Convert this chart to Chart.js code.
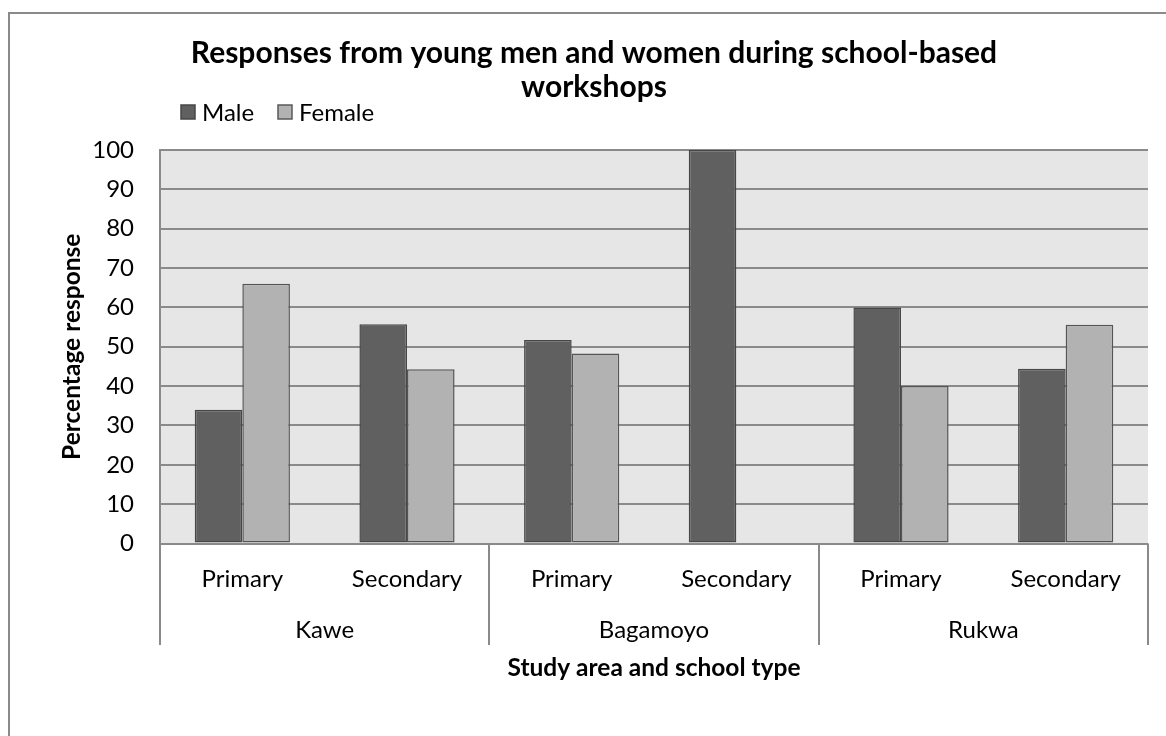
<!DOCTYPE html>
<html>
<head>
<meta charset="utf-8">
<script src="https://cdn.jsdelivr.net/npm/chart.js@4.4.1/dist/chart.umd.min.js"></script>
<style>
  body { margin: 0; background: #fff; }
  #wrap { width: 1166px; height: 736px; }
</style>
</head>
<body>
<div id="wrap"><canvas id="responsesChart" width="1166" height="736"></canvas></div>
<script>
// school types along the axis, grouped by study area
const schoolTypes = ['Primary', 'Secondary', 'Primary', 'Secondary', 'Primary', 'Secondary'];
const studyAreas = ['Kawe', 'Bagamoyo', 'Rukwa'];
const maleValues = [34, 55.7, 51.7, 100, 60, 44.4];
const femaleValues = [66, 44.3, 48.3, 0, 40, 55.6];
const yTicks = [0, 10, 20, 30, 40, 50, 60, 70, 80, 90, 100];

const titleLines = ['Responses from young men and women during school-based', 'workshops'];
const FONT = 'Lato, "Open Sans", sans-serif';
const GRID = '#8a8a8a';

// backdrop, frame, title, legend, grouped axis labels
const decorations = {
    id: 'decorations',
    beforeDraw(chart) {
        const { ctx, chartArea: a } = chart;
        ctx.save();
        ctx.fillStyle = '#fff';
        ctx.fillRect(0, 0, chart.width, chart.height);
        ctx.fillStyle = '#e6e6e6';
        ctx.fillRect(a.left, a.top, a.right - a.left, a.bottom - a.top);
        ctx.restore();
    },
    afterDraw(chart) {
        const { ctx, chartArea: a } = chart;
        const x = chart.scales.x;
        ctx.save();

        // outer frame
        ctx.strokeStyle = GRID;
        ctx.lineWidth = 2;
        ctx.beginPath();
        ctx.moveTo(9, chart.height);
        ctx.lineTo(9, 13);
        ctx.lineTo(chart.width, 13);
        ctx.stroke();

        // title
        ctx.fillStyle = '#000';
        ctx.textAlign = 'center';
        ctx.textBaseline = 'alphabetic';
        ctx.font = 'bold 30px ' + FONT;
        ctx.fillText(titleLines[0], 594, 63);
        ctx.fillText(titleLines[1], 594, 97);

        // legend
        const legend = [
            { text: 'Male', fill: '#606060', stroke: '#474747', x: 181 },
            { text: 'Female', fill: '#b2b2b2', stroke: '#5a5a5a', x: 278 }
        ];
        ctx.font = '24px ' + FONT;
        ctx.textAlign = 'left';
        ctx.textBaseline = 'middle';
        legend.forEach(item => {
            ctx.fillStyle = item.fill;
            ctx.fillRect(item.x, 105, 14, 14);
            ctx.strokeStyle = item.stroke;
            ctx.lineWidth = 1.5;
            ctx.strokeRect(item.x, 105, 14, 14);
            ctx.fillStyle = '#000';
            ctx.fillText(item.text, item.x + 21, 113);
        });

        // group separators and study area labels
        const perGroup = schoolTypes.length / studyAreas.length;
        const edges = [a.left];
        for (let g = 1; g < studyAreas.length; g++) {
            const i = g * perGroup;
            edges.push((x.getPixelForValue(i - 1) + x.getPixelForValue(i)) / 2);
        }
        edges.push(a.right);
        ctx.strokeStyle = GRID;
        ctx.lineWidth = 2;
        edges.forEach(px => {
            ctx.beginPath();
            ctx.moveTo(Math.round(px), a.bottom);
            ctx.lineTo(Math.round(px), 645);
            ctx.stroke();
        });
        ctx.fillStyle = '#000';
        ctx.textAlign = 'center';
        ctx.font = '24px ' + FONT;
        studyAreas.forEach((name, g) => {
            ctx.fillText(name, (edges[g] + edges[g + 1]) / 2, 630);
        });

        // axis titles
        ctx.font = 'bold 24.5px ' + FONT;
        ctx.fillText('Study area and school type', (a.left + a.right) / 2, 668);
        ctx.translate(72, (a.top + a.bottom) / 2);
        ctx.rotate(-Math.PI / 2);
        ctx.fillText('Percentage response', 0, 0);
        ctx.restore();
    }
};

new Chart(document.getElementById('responsesChart'), {
    type: 'bar',
    data: {
        labels: schoolTypes,
        datasets: [{
            label: 'Male',
            data: maleValues,
            backgroundColor: '#606060',
            borderColor: '#474747',
            borderWidth: ctx => ctx.raw === 0 ? 0 : 1.5,
            borderSkipped: false,
            categoryPercentage: 0.578,
            barPercentage: 1
        }, {
            label: 'Female',
            data: femaleValues,
            backgroundColor: '#b2b2b2',
            borderColor: '#555555',
            borderWidth: ctx => ctx.raw === 0 ? 0 : 1.5,
            borderSkipped: false,
            categoryPercentage: 0.578,
            barPercentage: 1
        }]
    },
    options: {
        responsive: false,
        animation: false,
        layout: { padding: { left: 0, top: 150, right: 18, bottom: 0 } },
        plugins: {
            legend: { display: false },
            title: { display: false },
            tooltip: { enabled: false }
        },
        scales: {
            x: {
                grid: { display: false, drawTicks: false },
                border: { display: false },
                ticks: { color: '#000', font: { family: FONT, size: 24 }, padding: 21, maxRotation: 0, autoSkip: false },
                afterFit: scale => { scale.height = 736 - 543.5; }
            },
            y: {
                min: 0,
                max: 100,
                afterBuildTicks: scale => { scale.ticks = yTicks.map(v => ({ value: v })); },
                grid: { color: GRID, lineWidth: 2, drawTicks: false },
                border: { color: GRID, width: 2 },
                ticks: { color: '#000', font: { family: FONT, size: 24 }, padding: 26 },
                afterFit: scale => { scale.width = 160; }
            }
        }
    },
    plugins: [decorations]
});
</script>
</body>
</html>
